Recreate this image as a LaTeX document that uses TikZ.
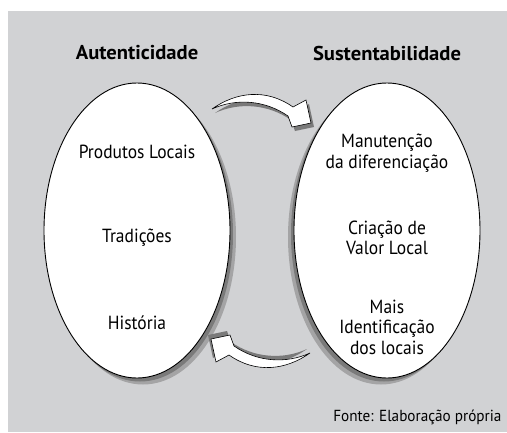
\documentclass[tikz,border=0pt]{standalone}
\usepackage{fontspec}
\setmainfont[FakeStretch=0.92]{PT Sans}
\newfontfamily\notefont[FakeStretch=0.95]{PT Sans}
\newfontfamily\titlefont[FakeStretch=1.03]{PT Sans}
\usetikzlibrary{shapes.geometric}
\definecolor{bg}{HTML}{D1D2D4}
\definecolor{shdark}{HTML}{7A7A7A}
\definecolor{shlight}{HTML}{A4A4A5}
\begin{document}
\begin{tikzpicture}[x=1pt,y=-1pt,
  oval/.style={ellipse,draw=black,line width=0.9pt,fill=white,minimum width=186pt,minimum height=295pt,inner sep=0pt},
  title/.style={font=\titlefont\bfseries\fontsize{20}{22}\selectfont,text=black},
  item/.style={font=\fontsize{19}{20.5}\selectfont,align=center,text=black},
  note/.style={font=\notefont\fontsize{16}{18}\selectfont,text=black},
  blockarrow/.style={fill=white,draw=black,line width=0.6pt,line join=miter}]
\useasboundingbox (0,0) rectangle (507,432);
\fill[white] (0,0) rectangle (507,432);
\fill[bg] (8,11) rectangle (507,432);
% shadows of ovals
\fill[shlight] (143,237) ellipse [x radius=93pt,y radius=147.5pt];
\fill[shdark] (140,234) ellipse [x radius=93pt,y radius=147.5pt];
\fill[shlight] (381,237) ellipse [x radius=93pt,y radius=147.5pt];
\fill[shdark] (384,234) ellipse [x radius=93pt,y radius=147.5pt];
% ovals
\node[oval] (L) at (137,230.5) {};
\node[oval] (R) at (387,230.5) {};
% titles
\node[title] (tL) at (137,53) {Autenticidade};
\node[title] (tR) at (387,53) {Sustentabilidade};
% left items
\node[item] (l1) at (137,152) {Produtos Locais};
\node[item] (l2) at (137,238) {Tradições};
\node[item] (l3) at (137,323) {História};
% right items
\node[item] (r1) at (387,153) {Manutenção\\da diferenciação};
\node[item] (r2) at (387,238) {Criação de\\Valor Local};
\node[item] (r3) at (387,327) {Mais\\Identificação\\dos locais};
% curved block arrows (bottom one is the top one turned half round)
\foreach \ang in {0,180}{
\begin{scope}[rotate around={\ang:(261,231)}]
\fill[shdark] [shift={(3,4)}] (212,109) .. controls (236,92) and (266,88) .. (293,107)
   -- (306,100) -- (311,123) -- (292,127) -- (288,116)
   .. controls (265,100) and (236,98) .. cycle;
\draw[blockarrow] (212,109) .. controls (236,92) and (266,88) .. (293,107)
   -- (306,100) -- (311,123) -- (292,127) -- (288,116)
   .. controls (265,100) and (236,98) .. cycle;
\end{scope}}
% source note
\node[note,anchor=base east] (src) at (505,421) {Fonte: Elaboração própria};
\end{tikzpicture}
\end{document}
